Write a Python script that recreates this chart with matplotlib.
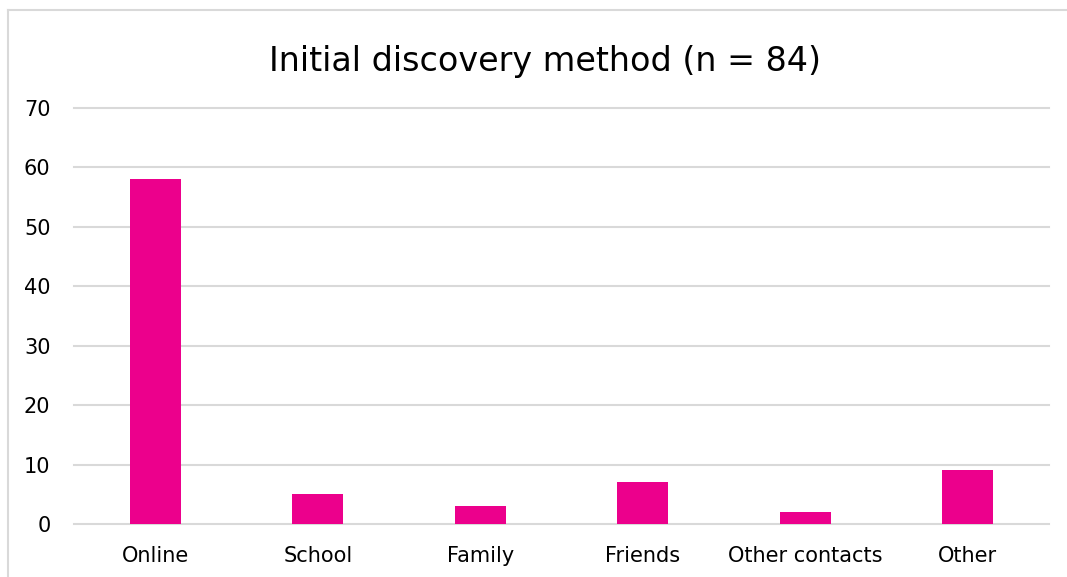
import matplotlib
matplotlib.use("Agg")
import matplotlib.pyplot as plt
from matplotlib.lines import Line2D

categories = ["Online", "School", "Family", "Friends", "Other contacts", "Other"]
counts = [58, 5, 3, 7, 2, 9]
yticks = [0, 10, 20, 30, 40, 50, 60, 70]

bar_color = "#EC008C"
grid_color = "#D9D9D9"

fig = plt.figure(figsize=(10.67, 5.77), dpi=100)
ax = fig.add_axes([0.0694, 0.0919, 0.9136, 0.7209])

x = range(len(categories))
ax.bar(x, counts, width=0.315, color=bar_color, zorder=3)

ax.set_xlim(-0.5, len(categories) - 0.5)
ax.set_ylim(0, 70)
ax.set_yticks(yticks)
ax.set_xticks(list(x))
ax.set_xticklabels(categories)
ax.yaxis.grid(True, color=grid_color, linewidth=1.5, zorder=0)
for gl in ax.get_ygridlines():
    gl.set_clip_on(False)
for s in ax.spines.values():
    s.set_visible(False)
ax.tick_params(axis="both", length=0, labelsize=15, colors="black")
ax.tick_params(axis="y", pad=17)
ax.tick_params(axis="x", pad=15.5)

fig.text(0.511, 0.893, "Initial discovery method (n = 84)", ha="center", va="center",
         fontsize=24)

# chart frame, cut off at the right and bottom
fig.add_artist(Line2D([8 / 1067, 8 / 1067], [0, 1 - 10 / 577], color=grid_color,
                      linewidth=1.5, transform=fig.transFigure))
fig.add_artist(Line2D([8 / 1067, 1], [1 - 10 / 577, 1 - 10 / 577], color=grid_color,
                      linewidth=1.5, transform=fig.transFigure))

fig.savefig("out.png", dpi=100)
